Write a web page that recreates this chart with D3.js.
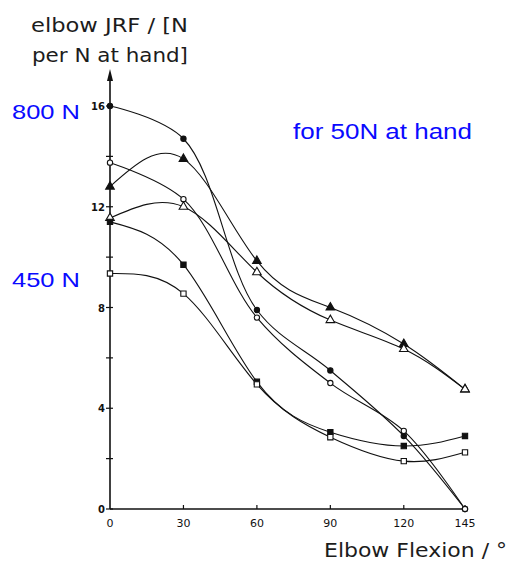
<!DOCTYPE html>
<html>
<head>
<meta charset="utf-8">
<script src="https://cdn.jsdelivr.net/npm/d3@7"></script>
<style>
  html, body { margin: 0; padding: 0; background: #fff; }
  svg { display: block; }
</style>
</head>
<body>
<svg id="chart" width="510" height="565"></svg>
<script>
// Elbow flexion angles (degrees)
const angles = [0, 30, 60, 90, 120, 145];

// Elbow joint reaction force per N at hand, one array per curve
const filledCircle   = [16.0, 14.7, 7.9, 5.5, 2.9, 0.0];
const openCircle     = [13.75, 12.3, 7.6, 5.0, 3.1, 0.0];
const filledTriangle = [12.8, 13.9, 9.85, 8.0, 6.55, 4.75];
const openTriangle   = [11.55, 12.0, 9.4, 7.5, 6.35, 4.75];
const filledSquare   = [11.4, 9.7, 5.05, 3.05, 2.5, 2.9];
const openSquare     = [9.35, 8.55, 4.95, 2.85, 1.9, 2.25];

const xTickValues = [0, 30, 60, 90, 120, 145];
const yTickLabels = [0, 4, 8, 12, 16];
const yMinorTicks = [2, 6, 10, 14];

const series = [
  { values: filledCircle,   shape: "circle",   filled: true,  curve: d3.curveCatmullRom },
  { values: openCircle,     shape: "circle",   filled: false, curve: d3.curveCatmullRom },
  { values: filledTriangle, shape: "triangle", filled: true,  curve: d3.curveNatural },
  { values: openTriangle,   shape: "triangle", filled: false, curve: d3.curveNatural },
  { values: filledSquare,   shape: "square",   filled: true,  curve: d3.curveNatural },
  { values: openSquare,     shape: "square",   filled: false, curve: d3.curveNatural }
];

const svg = d3.select("#chart");
const ink = "#111";

const x = d3.scaleLinear().domain([0, 145]).range([110, 465]);
const y = d3.scaleLinear().domain([0, 16]).range([509, 106]);

// Axes
const axisG = svg.append("g");
axisG.append("line")
  .attr("x1", x(0)).attr("x2", x(145) + 1)
  .attr("y1", y(0)).attr("y2", y(0))
  .attr("stroke", ink).attr("stroke-width", 1.6);
axisG.append("line")
  .attr("x1", x(0)).attr("x2", x(0))
  .attr("y1", y(0)).attr("y2", 76)
  .attr("stroke", ink).attr("stroke-width", 1.6);
// arrowhead on the vertical axis
axisG.append("path")
  .attr("d", `M${x(0)},69 L${x(0) - 3},81 L${x(0) + 3},81 Z`)
  .attr("fill", ink);

// x ticks
const xAxis = svg.append("g");
xAxis.selectAll("line").data(xTickValues.filter(d => d > 0)).join("line")
  .attr("x1", d => x(d)).attr("x2", d => x(d))
  .attr("y1", y(0)).attr("y2", y(0) - 4)
  .attr("stroke", ink).attr("stroke-width", 1.2);
xAxis.selectAll("text").data(xTickValues).join("text")
  .attr("x", d => x(d)).attr("y", 527)
  .attr("text-anchor", "middle")
  .attr("font-family", "DejaVu Sans")
  .attr("font-size", 11)
  .attr("fill", ink)
  .text(d => d);

// y ticks
const yAxis = svg.append("g");
yAxis.selectAll("line").data(yTickLabels.concat(yMinorTicks)).join("line")
  .attr("x1", x(0) - 4).attr("x2", x(0) + 3)
  .attr("y1", d => y(d)).attr("y2", d => y(d))
  .attr("stroke", ink).attr("stroke-width", 1.2);
yAxis.selectAll("text").data(yTickLabels).join("text")
  .attr("x", x(0) - 5).attr("y", d => y(d) + 4)
  .attr("text-anchor", "end")
  .attr("font-family", "DejaVu Sans")
  .attr("font-weight", "bold")
  .attr("font-size", 10)
  .attr("fill", ink)
  .text(d => d);

// Curves
const curves = svg.append("g");
curves.selectAll("path").data(series).join("path")
  .attr("d", s => d3.line()
    .x((d, i) => x(angles[i]))
    .y(d => y(d))
    .curve(s.curve)(s.values))
  .attr("fill", "none")
  .attr("stroke", ink)
  .attr("stroke-width", 1.1);

// Markers
const symbolFor = {
  circle: d3.symbol().type(d3.symbolCircle).size(22),
  triangle: d3.symbol().type(d3.symbolTriangle).size(32),
  square: d3.symbol().type(d3.symbolSquare).size(28)
};
series.forEach(s => {
  svg.append("g").selectAll("path").data(s.values).join("path")
    .attr("transform", (d, i) => `translate(${x(angles[i])},${y(d)})`)
    .attr("d", symbolFor[s.shape]())
    .attr("fill", s.filled ? ink : "#fff")
    .attr("stroke", ink)
    .attr("stroke-width", 1.1);
});

// Titles and annotations
function label(txt, px, py, size, family, color, width) {
  svg.append("text")
    .attr("x", px).attr("y", py)
    .attr("font-family", family)
    .attr("font-size", size)
    .attr("fill", color)
    .attr("textLength", width)
    .attr("lengthAdjust", "spacingAndGlyphs")
    .text(txt);
}
const dark = "#1c1c1c";
label("elbow JRF / [N", 31, 32, 20, "DejaVu Sans", dark, 157);
label("per N at hand]", 32, 62, 20, "DejaVu Sans", dark, 156);
label("Elbow Flexion / °", 324, 557, 19.5, "DejaVu Sans", dark, 183);

const blue = "#0a0aff";
const sans = "Liberation Sans, Arial, sans-serif";
label("800 N", 12, 119, 21, sans, blue, 68);
label("450 N", 12, 287, 21, sans, blue, 68);
label("for 50N at hand", 293, 139, 22, sans, blue, 179);
</script>
</body>
</html>
